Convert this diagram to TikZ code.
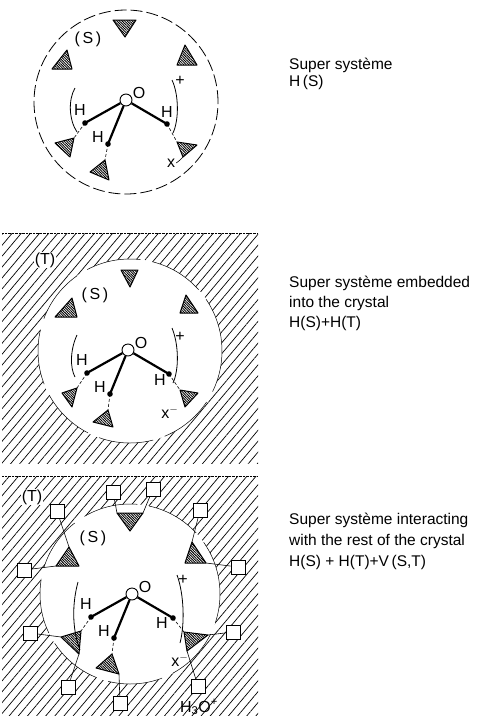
\documentclass[tikz,border=0pt]{standalone}
\usepackage{fontspec}
\setmainfont{Liberation Sans}
\usetikzlibrary{patterns.meta}

\tikzset{
	crystal/.style={pattern={Lines[angle=50,distance=7pt,line width=0.7pt]}},
	ligand/.style={draw,line width=1pt,line join=round,
		pattern={Lines[angle=-45,distance=1.8pt,line width=0.9pt]}},
	bond/.style={line width=2.2pt},
	hbond/.style={dash pattern=on 3pt off 2pt,line width=0.6pt},
	bracket/.style={line width=0.8pt},
	shell/.style={line width=0.8pt,dash pattern=on 12pt off 4pt},
	rim/.style={line width=0.5pt,dash pattern=on 55pt off 12pt},
	site/.style={draw,fill=white,line width=0.7pt,minimum size=14pt,inner sep=0pt},
	link/.style={line width=0.6pt},
	lab/.style={font=\fontsize{16}{18}\selectfont,inner sep=1pt},
	caption/.style={anchor=base west,align=left,inner sep=0pt},
	% water molecule: O with its three H
	pics/water/.style={code={
		\node[circle,draw,fill=white,line width=0.9pt,minimum size=12pt,inner sep=0pt] (-O) at (0,0) {};
		\coordinate (-Hl) at (-41,23);
		\coordinate (-Hb) at (-18,44);
		\coordinate (-Hr) at (41,24);
		\draw[bond] (-O) -- (-Hl);
		\draw[bond] (-O) -- (-Hb);
		\draw[bond] (-O) -- (-Hr);
		\foreach \h in {Hl,Hb,Hr} \fill (-\h) circle (2.8pt);
		\node[lab] (-Olab) at (13,-7) {O};
		\node[lab] (-Hl-lab) at (-46,10) {H};
		\node[lab] (-Hb-lab) at (-28,37) {H};
	}}
}

\begin{document}
\begin{tikzpicture}[x=1pt,y=-1pt]
	\useasboundingbox (0,0) rectangle (484,716);
	
	%Super systeme alone
	\begin{scope}[shift={(126,100)}]
		\draw[shell] (0,2) circle (92pt);
		\pic (w1) at (0,0) {water};
		\node[lab] (w1-Hr-lab) at (41,12) {H};
		\node[lab] (w1-S) at (-38,-61) {(\,S\,)};
		\node[lab] (w1-plus) at (54,-19) {+};
		\node[lab] (w1-x) at (45,63) {x};
		\draw[ligand] (-13,-80) -- (10,-80) -- (-1,-63) -- cycle;
		\draw[ligand] (-74,-31) -- (-54,-31) -- (-59,-50) -- cycle;
		\draw[ligand] (51,-35) -- (71,-35) -- (59,-55) -- cycle;
		\draw[ligand] (-71,43) -- (-52,38) coordinate (a4) -- (-56,57) -- cycle;
		\draw[ligand] (-36,72) -- (-21,60) coordinate (a5) -- (-17,80) -- cycle;
		\draw[ligand] (51,42) coordinate (a6) -- (71,45) -- (57,57) coordinate (c6) -- cycle;
		\draw[hbond] (w1-Hl) -- (a4);
		\draw[hbond] (w1-Hb) -- (a5);
		\draw[hbond] (w1-Hr) -- (a6);
		\draw[bracket] (-51,-12) .. controls (-58,0) and (-57,20) .. (-49,32);
		\draw[bracket] (46,-20) .. controls (53,-5) and (53,20) .. (47,33);
		\draw[link] (w1-x.east) .. controls (52,62) and (54,60) .. (c6);
	\end{scope}
	\node[caption,font=\fontsize{15.5}{17}\selectfont] (cap1) at (289,86) {Super système\\H\,(S)};
	
	%Super systeme embedded into the crystal
	\path[crystal] (2,233) rectangle (258,463);
	\draw[densely dotted,line width=0.4pt] (2,233) -- (258,233);
	\begin{scope}[shift={(128,350)}]
		\fill[white] (2,1) circle (92pt);
		\draw[rim] (2,1) circle (92pt);
		\pic (w2) at (0,0) {water};
		\node[lab] (w2-Hr-lab) at (32,30) {H};
		\node[lab] (w2-S) at (-33,-55) {(\,S\,)};
		\node[lab,fill=white] (w2-T) at (-83,-90) {(T)};
		\node[lab] (w2-plus) at (52,-13) {+};
		\node[lab] (w2-x) at (42,62) {x$^-$};
		\draw[ligand] (-7,-80) -- (10,-80) -- (2,-63) -- cycle;
		\draw[ligand] (-73,-33) -- (-51,-33) -- (-56,-52) -- cycle;
		\draw[ligand] (52,-37) -- (70,-37) -- (58,-55) -- cycle;
		\draw[ligand] (-66,43) -- (-51,38) coordinate (b4) -- (-56,57) -- cycle;
		\draw[ligand] (-35,72) -- (-20,60) coordinate (b5) -- (-15,77) -- cycle;
		\draw[ligand] (52,40) coordinate (b6) -- (70,43) -- (57,57) -- cycle;
		\draw[hbond] (w2-Hl) -- (b4);
		\draw[hbond] (w2-Hb) -- (b5);
		\draw[hbond] (w2-Hr) -- (b6);
		\draw[bracket] (-51,-15) .. controls (-58,0) and (-58,18) .. (-53,27);
		\draw[bracket] (44,-22) .. controls (51,-5) and (51,20) .. (45,33);
	\end{scope}
	\node[caption,font=\fontsize{15.5}{20}\selectfont] (cap2) at (289,327)
		{Super système embedded\\into the crystal\\H(S)+H(T)};
	
	%Super systeme interacting with the crystal
	\path[crystal] (2,476) rectangle (258,716);
	\draw[densely dotted,line width=0.4pt] (2,476) -- (258,476);
	\begin{scope}[shift={(132,594)}]
		\fill[white] (-2,0) circle (90pt);
		\draw[rim] (-2,0) circle (90pt);
		\pic (w3) at (0,0) {water};
		\node[lab] (w3-Hr-lab) at (30,29) {H};
		\node[lab] (w3-S) at (-39,-56) {(\,S\,)};
		\node[lab,fill=white] (w3-T) at (-100,-97) {(T)};
		\node[lab] (w3-plus) at (51,-14) {+};
		\node[lab] (w3-x) at (48,66) {x$^-$};
		\node[lab] (w3-h3o) at (67,113) {H\textsubscript{3}O\textsuperscript{+}};
		\draw[ligand] (-15,-81) coordinate (q1a) -- (11,-81) coordinate (q1b) -- (-2,-63) -- cycle;
		\draw[ligand] (-76,-28) coordinate (q2a) -- (-53,-28) -- (-63,-47) coordinate (q2c) -- cycle;
		\draw[ligand] (53,-31) -- (74,-31) coordinate (q3b) -- (60,-52) coordinate (q3c) -- cycle;
		\draw[ligand] (-71,43) coordinate (q4a) -- (-51,37) coordinate (q4b) -- (-53,60) coordinate (q4c) -- cycle;
		\draw[ligand] (-36,74) -- (-20,60) coordinate (q5b) -- (-13,80) coordinate (q5c) -- cycle;
		\draw[ligand] (52,38) coordinate (q6a) -- (76,41) coordinate (q6b) -- (55,57) coordinate (q6c) -- cycle;
		\draw[hbond] (w3-Hl) -- (q4b);
		\draw[hbond] (w3-Hb) -- (q5b);
		\draw[hbond] (w3-Hr) -- (q6a);
		\draw[bracket] (-54,-12) .. controls (-60,10) and (-60,35) .. (-52,56);
		\draw[bracket] (45,-19) .. controls (52,0) and (53,30) .. (48,49);
		% lattice sites of the rest of the crystal
		\node[site] (s1) at (-19,-102) {};
		\node[site] (s2) at (21,-105) {};
		\node[site] (s3) at (-75,-83) {};
		\node[site] (s4) at (68,-84) {};
		\node[site] (s5) at (-108,-24) {};
		\node[site] (s6) at (106,-27) {};
		\node[site] (s7) at (-102,39) {};
		\node[site] (s8) at (101,38) {};
		\node[site] (s9) at (-64,93) {};
		\node[site] (s10) at (66,92) {};
		\node[site] (s11) at (-12,109) {};
		\draw[link] (s1) -- (q1a);
		\draw[link] (s2) -- (q1b);
		\draw[link] (s3) -- (q2c);
		\draw[link] (s5) -- (q2a);
		\draw[link] (s4) -- (q3c);
		\draw[link] (s6) -- (q3b);
		\draw[link] (s7) -- (q4a);
		\draw[link] (s9) -- (q4c);
		\draw[link] (s11) -- (q5c);
		\draw[link] (s10) -- (q6c);
		\draw[link] (s8) -- (q6b);
	\end{scope}
	\node[caption,font=\fontsize{15.5}{21}\selectfont] (cap3) at (289,566)
		{Super système interacting\\with the rest of the crystal\\H(S) + H(T)+V\,(S,T)};
	
\end{tikzpicture}
\end{document}
